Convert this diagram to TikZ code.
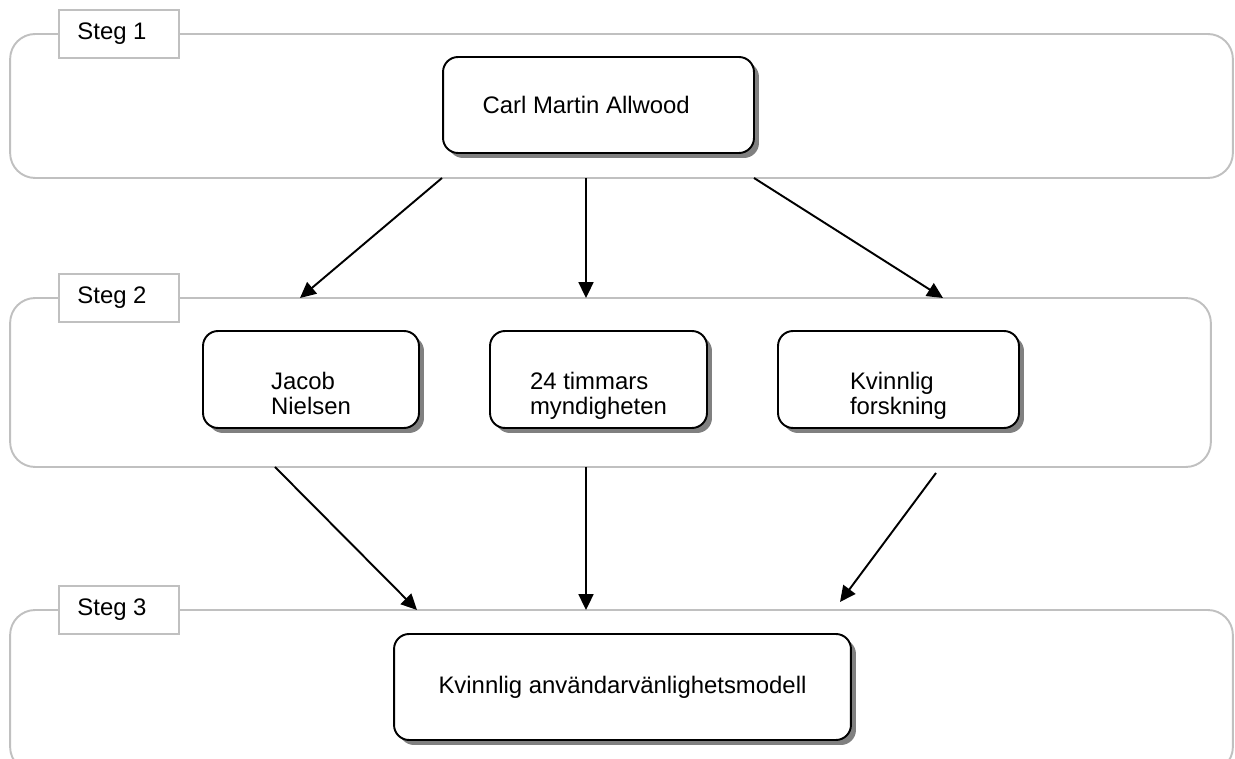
\documentclass[tikz,border=0pt]{standalone}
\usepackage{fontspec}
\setmainfont{Liberation Sans}
\usetikzlibrary{positioning}
\usetikzlibrary{arrows.meta}
\usetikzlibrary{shadows}
\definecolor{panelgray}{RGB}{192,192,192}
\tikzset{>={Triangle[length=9pt,width=8.5pt]}}
\tikzset{panel/.style={draw=panelgray, line width=1.1pt, rounded corners=0.5cm, inner sep=0pt}}
\tikzset{tab/.style={draw=panelgray, line width=1.1pt, fill=white, minimum width=2.4cm, minimum height=0.96cm, inner sep=0pt}}
\tikzset{stage/.style={draw, line width=1.1pt, rounded corners=0.3cm, fill=white,
    drop shadow={shadow xshift=0.1cm, shadow yshift=-0.1cm, fill=black!50, opacity=1}}}
\tikzset{flow/.style={->, line width=1.1pt}}
% two lines set a little below the middle of their box
\newcommand{\twolines}[2]{\raisebox{-10pt}[\height][\depth]{\begin{tabular}{@{}l@{}}#1\\#2\end{tabular}}}

\begin{document}
\begin{tikzpicture}[x=0.02cm, y=-0.02cm, font=\fontsize{13.6}{14.3}\selectfont]
    \useasboundingbox (0,0) rectangle (1235,759);

    % the three stages
    \node[panel, minimum width=24.46cm, minimum height=2.88cm] (p1) at (621.5,106) {};
    \node[panel, minimum width=24.02cm, minimum height=3.38cm] (p2) at (610.5,382.5) {};
    \node[panel, minimum width=24.46cm, minimum height=3.24cm] (p3) at (621.5,691) {};

    \node[tab] (t1) at (119,34) {Steg 1\hspace*{8pt}};
    \node[tab] (t2) at (119,298) {Steg 2\hspace*{8pt}};
    \node[tab] (t3) at (119,610) {Steg 3\hspace*{8pt}};

    \node[stage, minimum width=6.22cm, minimum height=1.92cm] (carl) at (598.5,105) {Carl Martin Allwood\hspace*{14pt}};
    \node[stage, minimum width=4.32cm, minimum height=1.94cm] (jacob) at (311,379.5) {\twolines{Jacob}{Nielsen}};
    \node[stage, minimum width=4.34cm, minimum height=1.94cm] (timmar) at (598.5,379.5) {\twolines{24 timmars}{myndigheten}};
    \node[stage, minimum width=4.82cm, minimum height=1.94cm] (forsk) at (898.5,379.5) {\twolines{Kvinnlig}{forskning}};
    \node[stage, minimum width=9.14cm, minimum height=2.12cm] (modell) at (622.5,687) {Kvinnlig användarvänlighetsmodell};

    % arrow ends on the stage borders
    \coordinate (a1) at (442,178);
    \coordinate (a2) at (586,178);
    \coordinate (a3) at (754,178);
    \coordinate (b1) at (300,298);
    \coordinate (b2) at (586,298);
    \coordinate (b3) at (943,298);
    \coordinate (c1) at (275,467);
    \coordinate (c2) at (586,467);
    \coordinate (c3) at (936,473);
    \coordinate (d1) at (417,610);
    \coordinate (d2) at (586,610);
    \coordinate (d3) at (840,602);

    \draw[flow] (a1) -- (b1);
    \draw[flow] (a2) -- (b2);
    \draw[flow] (a3) -- (b3);

    \draw[flow] (c1) -- (d1);
    \draw[flow] (c2) -- (d2);
    \draw[flow] (c3) -- (d3);
\end{tikzpicture}
\end{document}
